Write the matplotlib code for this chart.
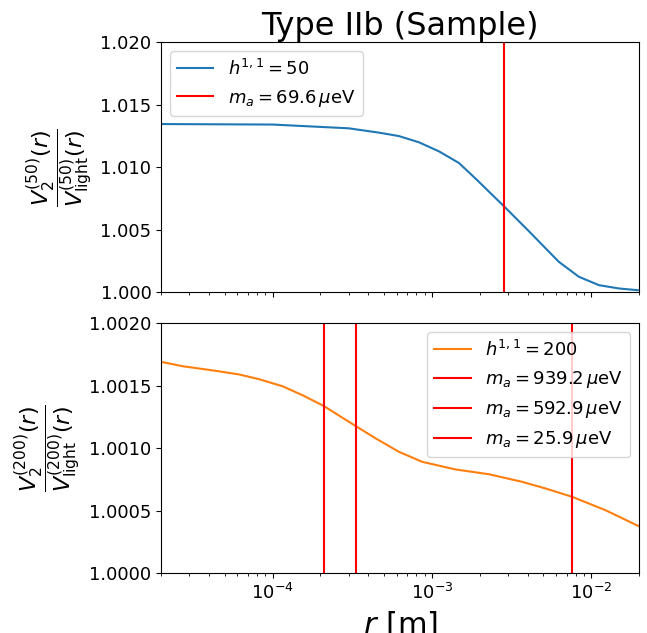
import numpy as np
import matplotlib
matplotlib.use('Agg')
import matplotlib.pyplot as plt
from matplotlib.ticker import FormatStrFormatter

# h11 = 50 curve
r_50 = [2e-5, 1.0e-4, 3.0e-4, 4.67e-4, 6.2e-4, 8.3e-4, 1.11e-3, 1.48e-3, 1.9e-3,
        2.83e-3, 4.06e-3, 6.26e-3, 8.37e-3, 1.12e-2, 1.49e-2, 1.96e-2]
v_50 = [1.01347, 1.01343, 1.01313, 1.01278, 1.01251, 1.01201, 1.01128, 1.01035, 1.00905,
        1.00690, 1.00490, 1.00245, 1.00125, 1.00058, 1.00032, 1.00018]

# h11 = 200 curve
r_200 = [2e-5, 2.73e-5, 4.41e-5, 6.18e-5, 8.25e-5, 1.156e-4, 1.543e-4, 2.09e-4, 3.34e-4,
         4.45e-4, 6.22e-4, 8.71e-4, 1.41e-3, 2.28e-3, 3.69e-3, 5.17e-3, 7.6e-3, 1.23e-2, 1.99e-2]
v_200 = [1.001693, 1.001658, 1.001621, 1.001592, 1.001554, 1.001498, 1.001426, 1.001341, 1.001178,
         1.001080, 1.000973, 1.000893, 1.000832, 1.000794, 1.000733, 1.000680, 1.000613, 1.000506, 1.000378]

# axion masses in micro-eV
m_50 = [69.6]
m_200 = [939.2, 592.9, 25.9]
hbar_c = 1.9733e-7  # eV m

fig = plt.figure(figsize=(6.47, 6.33), dpi=100)
ax1 = fig.add_axes([0.249, 0.538, 0.739, 0.395])
ax2 = fig.add_axes([0.249, 0.094, 0.739, 0.395], sharex=ax1)

ax1.plot(r_50, v_50, color='C0', label=r'$h^{1,1}=50$')
for m in m_50:
    ax1.axvline(hbar_c / (m * 1e-6), color='r', label=r'$m_a = %.1f\,\mu{\rm eV}$' % m)
ax1.set_xscale('log')
ax1.set_xlim(2e-5, 2e-2)
ax1.set_ylim(1.0, 1.02)
ax1.set_yticks([1.0, 1.005, 1.01, 1.015, 1.02])
ax1.yaxis.set_major_formatter(FormatStrFormatter('%.3f'))
ax1.tick_params(labelbottom=False, labelsize=13)
ax1.set_ylabel(r'$\dfrac{V_2^{(50)}(r)}{V_{\rm light}^{(50)}(r)}$', fontsize=16)
ax1.legend(loc='upper left', fontsize=13)
ax1.set_title('Type IIb (Sample)', fontsize=23, pad=4)

ax2.plot(r_200, v_200, color='C1', label=r'$h^{1,1}=200$')
for m in m_200:
    ax2.axvline(hbar_c / (m * 1e-6), color='r', label=r'$m_a = %.1f\,\mu{\rm eV}$' % m)
ax2.set_ylim(1.0, 1.002)
ax2.set_yticks([1.0, 1.0005, 1.001, 1.0015, 1.002])
ax2.yaxis.set_major_formatter(FormatStrFormatter('%.4f'))
ax2.tick_params(labelsize=13)
ax2.set_ylabel(r'$\dfrac{V_2^{(200)}(r)}{V_{\rm light}^{(200)}(r)}$', fontsize=16)
ax2.set_xlabel(r'$r$ [m]', fontsize=22)
ax2.legend(loc='upper right', fontsize=13)

fig.savefig('out.png', dpi=100)
